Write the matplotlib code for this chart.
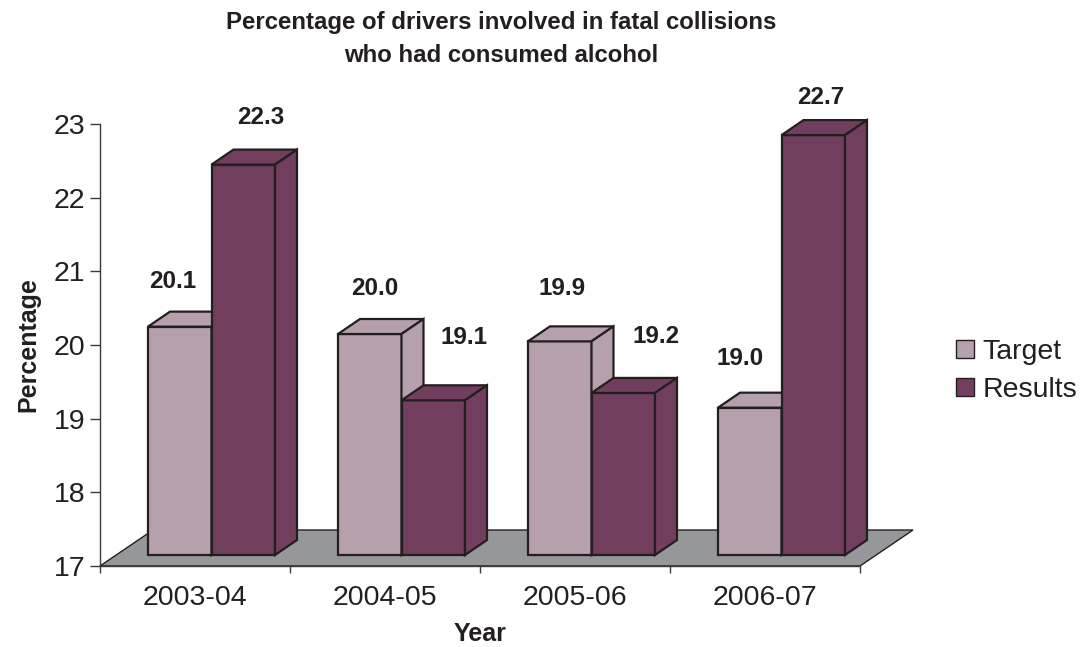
import matplotlib
matplotlib.use("Agg")
import matplotlib.pyplot as plt
from matplotlib.patches import Polygon, Rectangle

plt.rcParams['font.family'] = ['Liberation Sans', 'DejaVu Sans']

years = ['2003-04', '2004-05', '2005-06', '2006-07']
target = [20.1, 20.0, 19.9, 19.0]
results = [22.3, 19.1, 19.2, 22.7]

# label nudges in pixels (dx, dy) from the top-front centre of each bar
target_nudge = [(-7, 45), (5, 46), (2, 53), (-10, 49)]
results_nudge = [(17, 47), (31, 63), (33, 56), (8, 38)]

c_target = '#B7A0AE'
c_results = '#713E5D'
c_floor = '#96979A'
c_edge = '#231F20'

W, H = 1083, 647
fig = plt.figure(figsize=(W / 100, H / 100), dpi=100)
ax = fig.add_axes([100 / W, 81 / H, 760 / W, 442 / H])
ax.set_xlim(0, 4)
ax.set_ylim(17, 23)

# pixel -> data scale
px_x = 4 / 760
px_y = 6 / 442

floor_d = (53 * px_x, 36 * px_y)    # depth of the floor
front_d = (16.5 * px_x, 11 * px_y)  # bars sit this far back
bar_d = (22 * px_x, 15 * px_y)      # depth of each bar
bar_w = 63.5 * px_x
base = 17

# floor
ax.add_patch(Polygon([(0, base), (4, base), (4 + floor_d[0], base + floor_d[1]),
                      (floor_d[0], base + floor_d[1])], closed=True,
                     facecolor=c_floor, edgecolor=c_edge, lw=1.0,
                     clip_on=False, zorder=1))


def draw_bar(x0, v, color):
    fx, fy = front_d
    dx, dy = bar_d
    x0 = x0 + fx
    x1 = x0 + bar_w
    y0 = base + fy
    y1 = v + fy
    kw = dict(facecolor=color, edgecolor=c_edge, lw=1.6, closed=True,
              clip_on=False, zorder=3, joinstyle='miter')
    ax.add_patch(Polygon([(x0, y0), (x1, y0), (x1, y1), (x0, y1)], **kw))
    ax.add_patch(Polygon([(x0, y1), (x1, y1), (x1 + dx, y1 + dy), (x0 + dx, y1 + dy)], **kw))
    ax.add_patch(Polygon([(x1, y0), (x1 + dx, y0 + dy), (x1 + dx, y1 + dy), (x1, y1)], **kw))
    return (x0 + x1) / 2, y1


for i in range(len(years)):
    cx, top = draw_bar(i + 0.5 - bar_w, target[i], c_target)
    ax.annotate(f'{target[i]:.1f}', (cx, top), xytext=target_nudge[i],
                textcoords='offset pixels', ha='center', va='center',
                fontsize=17.5, fontweight='bold', color=c_edge, zorder=5,
                annotation_clip=False)
    cx, top = draw_bar(i + 0.5, results[i], c_results)
    ax.annotate(f'{results[i]:.1f}', (cx, top), xytext=results_nudge[i],
                textcoords='offset pixels', ha='center', va='center',
                fontsize=17.5, fontweight='bold', color=c_edge, zorder=5,
                annotation_clip=False)

# axes styling
for s in ['top', 'right']:
    ax.spines[s].set_visible(False)
for s in ['left', 'bottom']:
    ax.spines[s].set_color('#3a3a3a')
    ax.spines[s].set_linewidth(1.0)
    ax.spines[s].set_zorder(2)

ax.set_yticks(range(17, 24))
ax.tick_params(axis='y', direction='out', length=7.2, width=1.0, color='#3a3a3a',
               labelsize=20.5, labelcolor=c_edge, pad=3.5)
ax.set_xticks(range(0, 5))
ax.set_xticklabels([])
ax.set_xticks([i + 0.5 for i in range(4)], minor=True)
ax.set_xticklabels(years, minor=True)
ax.tick_params(axis='x', which='major', direction='out', length=5, width=1.0,
               color='#3a3a3a')
ax.tick_params(axis='x', which='minor', length=0, labelsize=20.5,
               labelcolor=c_edge, pad=13.5)

fig.text(501 / W, 1 - 22 / H, 'Percentage of drivers involved in fatal collisions',
         ha='center', va='center', fontsize=17.3, fontweight='bold', color=c_edge)
fig.text(501 / W, 1 - 56 / H, 'who had consumed alcohol',
         ha='center', va='center', fontsize=17.3, fontweight='bold', color=c_edge)
fig.text(28 / W, 1 - 345 / H, 'Percentage', rotation=90, ha='center', va='center',
         fontsize=18, fontweight='bold', color=c_edge)
fig.text(480 / W, 1 - 634 / H, 'Year', ha='center', va='center',
         fontsize=18, fontweight='bold', color=c_edge)

handles = [Rectangle((0, 0), 1, 1, facecolor=c_target, edgecolor=c_edge, lw=1.0),
           Rectangle((0, 0), 1, 1, facecolor=c_results, edgecolor=c_edge, lw=1.0)]
fig.legend(handles, ['Target', 'Results'], loc='center left',
           bbox_to_anchor=(956 / W, 1 - 371 / H), frameon=False, fontsize=20.5,
           handlelength=0.63, handleheight=0.63, handletextpad=0.3,
           labelspacing=0.42, borderpad=0, borderaxespad=0, labelcolor=c_edge)

fig.savefig('out.png', dpi=100)
